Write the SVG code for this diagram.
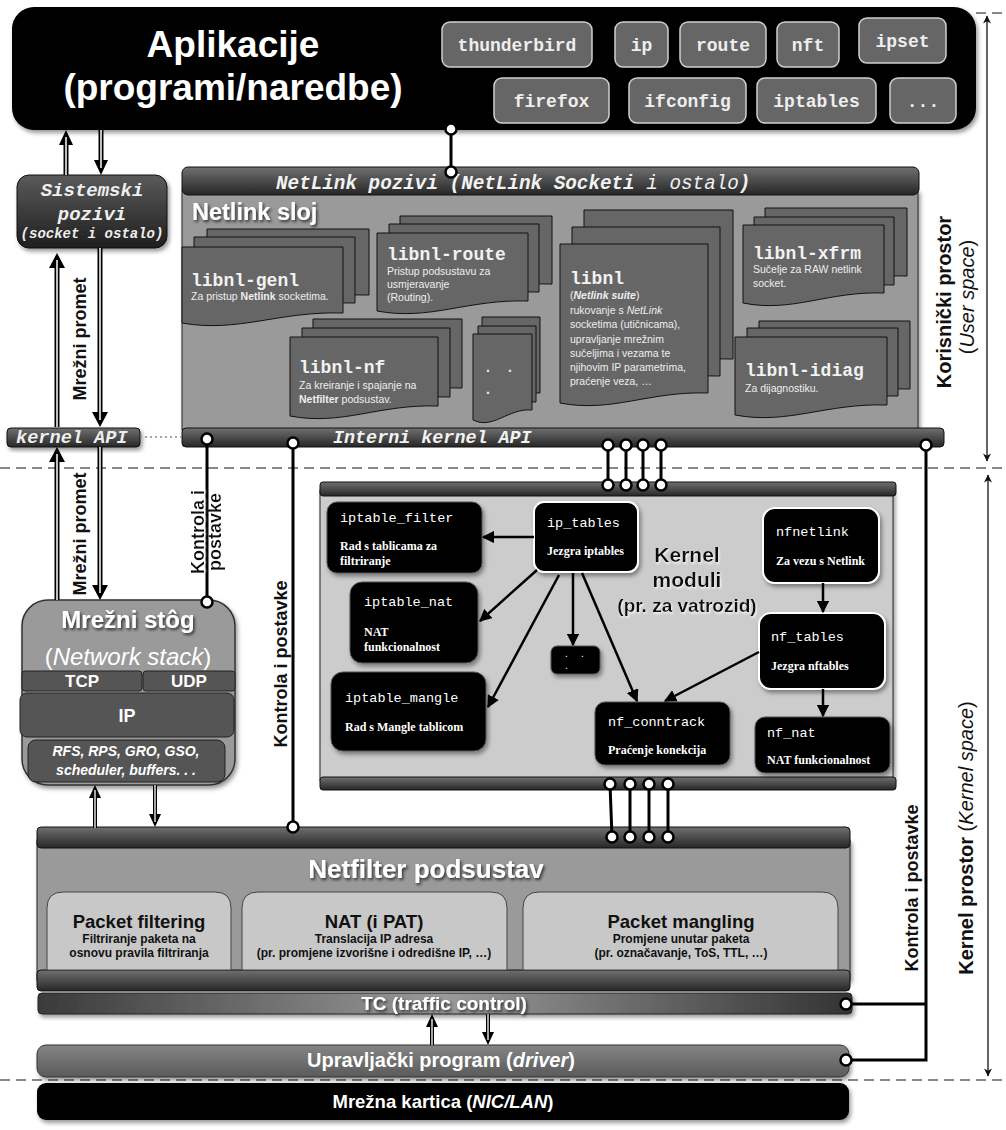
<svg xmlns="http://www.w3.org/2000/svg" width="1006" height="1130" viewBox="0 0 1006 1130">
<defs>
<style>
.mono{font-family:"Liberation Mono","DejaVu Sans Mono",monospace}
.sans{font-family:"Liberation Sans",Arial,sans-serif}
.serif{font-family:"Liberation Serif","Times New Roman",serif}
.bar{fill:url(#gBar);stroke:#111;stroke-width:1}
.doc{fill:#666;stroke:#111;stroke-width:1}
.btn{fill:#666;stroke:#d0d0d0;stroke-width:1.5}
.btxt{font-family:"Liberation Mono","DejaVu Sans Mono",monospace;font-weight:bold;font-size:18px;fill:#eee;text-anchor:middle}
.dname{font-family:"Liberation Mono","DejaVu Sans Mono",monospace;font-weight:bold;font-size:18px;fill:#f2f2f2}
.ddesc{font-family:"Liberation Sans",Arial,sans-serif;font-size:10.5px;fill:#eee}
.mod{fill:#000;stroke:#555;stroke-width:1}
.modw{fill:#000;stroke:#fff;stroke-width:2}
.mname{font-family:"Liberation Mono","DejaVu Sans Mono",monospace;font-size:13.5px;fill:#fff}
.mdesc{font-family:"Liberation Serif","Times New Roman",serif;font-weight:bold;font-size:12px;fill:#fff}
.conn{stroke:#000;stroke-width:3;fill:none}
.dot{fill:#fff;stroke:#000;stroke-width:2.5}
.arr{stroke:#000;stroke-width:2.5;fill:none;marker-end:url(#ah)}
.thin{stroke:#111;stroke-width:1.3;fill:none;marker-start:url(#ah2);marker-end:url(#ah2)}
.vlab{font-family:"Liberation Sans",Arial,sans-serif;font-weight:bold;font-size:18px;fill:#111;text-anchor:middle}
.dash{stroke:#888;stroke-width:2;stroke-dasharray:10 6;fill:none}
.wt{font-family:"Liberation Sans",Arial,sans-serif;font-weight:bold;fill:#fff;text-anchor:middle}
.bt{font-family:"Liberation Sans",Arial,sans-serif;font-weight:bold;fill:#111;text-anchor:middle}
.sub{fill:#c8c8c8;stroke:#444;stroke-width:1}
.hb{stroke:#000}
.hw{stroke:#fff}
</style>
<linearGradient id="gBar" x1="0" y1="0" x2="0" y2="1">
<stop offset="0" stop-color="#707070"/><stop offset="1" stop-color="#262626"/>
</linearGradient>
<linearGradient id="gDark" x1="0" y1="0" x2="0" y2="1">
<stop offset="0" stop-color="#5a5a5a"/><stop offset="1" stop-color="#1e1e1e"/>
</linearGradient>
<linearGradient id="gTC" x1="0" y1="0" x2="1" y2="0">
<stop offset="0" stop-color="#3a3a3a"/><stop offset="0.5" stop-color="#9a9a9a"/><stop offset="1" stop-color="#333"/>
</linearGradient>
<linearGradient id="gDrv" x1="0" y1="0" x2="0" y2="1">
<stop offset="0" stop-color="#858585"/><stop offset="1" stop-color="#5a5a5a"/>
</linearGradient>
<filter id="sh" x="-10%" y="-10%" width="125%" height="140%">
<feDropShadow dx="2" dy="3" stdDeviation="2" flood-color="#000" flood-opacity="0.4"/>
</filter>
<filter id="ts" x="-10%" y="-30%" width="125%" height="170%">
<feDropShadow dx="1.5" dy="2" stdDeviation="1.5" flood-color="#000" flood-opacity="0.7"/>
</filter>
<filter id="tw" x="-10%" y="-30%" width="125%" height="170%">
<feDropShadow dx="1" dy="1.5" stdDeviation="1.2" flood-color="#fff" flood-opacity="0.9"/>
</filter>
<marker id="ah" viewBox="0 0 10 10" refX="9" refY="5" markerWidth="5" markerHeight="5" orient="auto">
<path d="M0,0 L10,5 L0,10 z" fill="#000"/>
</marker>
<marker id="ah2" viewBox="0 0 10 10" refX="9.5" refY="5" markerWidth="11" markerHeight="8" markerUnits="userSpaceOnUse" orient="auto-start-reverse">
<path d="M0,0 L10,5 L0,10 L3,5 z" fill="#111"/>
</marker>
</defs>

<rect width="1006" height="1130" fill="#fff"/>

<!-- dashed boundaries -->
<g id="boundaries">
<line class="dash" x1="976" y1="13" x2="1006" y2="13"/>
<line class="dash" x1="0" y1="468" x2="1006" y2="468"/>
<line class="dash" x1="0" y1="1080" x2="1006" y2="1080"/>
<line class="thin" x1="987" y1="16" x2="987" y2="461"/>
<line class="thin" x1="988" y1="475" x2="988" y2="1076"/>
<text class="sans" transform="translate(951,302) rotate(-90)" text-anchor="middle" font-size="20" font-weight="bold" fill="#111">Korisnički prostor</text>
<text class="sans" transform="translate(974,297) rotate(-90)" text-anchor="middle" font-size="20" fill="#111">(<tspan font-style="italic">User space</tspan>)</text>
<text class="sans" transform="translate(973,838) rotate(-90)" text-anchor="middle" font-size="20" fill="#111"><tspan font-weight="bold">Kernel prostor </tspan>(<tspan font-style="italic">Kernel space</tspan>)</text>
</g>

<!-- Applications -->
<g id="aplikacije">
<rect x="12" y="7" width="964" height="123" rx="22" fill="#000" filter="url(#sh)"/>
<text class="wt" x="233" y="57" font-size="37">Aplikacije</text>
<text class="wt" x="233" y="100" font-size="37">(programi/naredbe)</text>
<rect class="btn" x="442" y="22" width="150" height="45" rx="8"/><text class="btxt" x="517" y="51">thunderbird</text>
<rect class="btn" x="615" y="22" width="53" height="45" rx="8"/><text class="btxt" x="641.5" y="51">ip</text>
<rect class="btn" x="680" y="22" width="86" height="45" rx="8"/><text class="btxt" x="723" y="51">route</text>
<rect class="btn" x="777" y="22" width="62" height="45" rx="8"/><text class="btxt" x="808" y="51">nft</text>
<rect class="btn" x="859" y="18" width="87" height="45" rx="8"/><text class="btxt" x="902.5" y="47">ipset</text>
<rect class="btn" x="494" y="78" width="115" height="45" rx="8"/><text class="btxt" x="551.5" y="107">firefox</text>
<rect class="btn" x="629" y="78" width="117" height="45" rx="8"/><text class="btxt" x="687.5" y="107">ifconfig</text>
<rect class="btn" x="757" y="78" width="119" height="45" rx="8"/><text class="btxt" x="816.5" y="107">iptables</text>
<rect class="btn" x="890" y="78" width="66" height="45" rx="8"/><text class="btxt" x="923" y="107">...</text>
</g>

<!-- Sistemski pozivi -->
<g id="sistemski">
<rect x="17" y="175" width="150" height="73" rx="12" fill="url(#gDark)" stroke="#111" filter="url(#sh)"/>
<text class="mono" x="92" y="196" font-size="19" font-style="italic" font-weight="bold" fill="#eee" text-anchor="middle">Sistemski</text>
<text class="mono" x="92" y="220" font-size="19" font-style="italic" font-weight="bold" fill="#eee" text-anchor="middle">pozivi</text>
<text class="mono" x="92" y="238" font-size="14" font-style="italic" font-weight="bold" fill="#eee" text-anchor="middle">(socket i ostalo)</text>
</g>

<g id="kernelapi">
<rect class="bar" x="7" y="428" width="133" height="19" rx="4" filter="url(#sh)"/>
<text class="mono" x="16" y="443" font-size="18.6" font-style="italic" font-weight="bold" fill="#eee">kernel API</text>
</g>

<!-- Netlink layer -->
<g id="netlink">
<rect x="182" y="190" width="736" height="240" fill="#9a9a9a" stroke="#222" filter="url(#sh)"/>
<rect class="bar" x="182" y="167" width="737" height="28" rx="6"/>
<text class="mono" x="276" y="189" font-size="19.3" font-style="italic" fill="#f2f2f2"><tspan font-weight="bold">NetLink pozivi (NetLink Socketi</tspan> i ostalo<tspan font-weight="bold">)</tspan></text>
<text class="sans" x="192" y="220" font-size="23.5" font-weight="bold" fill="#fff" filter="url(#ts)">Netlink sloj</text>
<rect class="bar" x="182" y="428" width="762" height="19" rx="4"/>
<text class="mono" x="333" y="443" font-size="18.4" font-style="italic" font-weight="bold" fill="#f2f2f2">Interni kernel API</text>
</g>

<g id="libnl-genl">
<path class="doc" d="M207,229 H369 V295 C304,293 264,315 207,305 Z"/>
<path class="doc" d="M194,237 H355 V303 C291,301 250,323 194,313 Z"/>
<path class="doc" d="M182,247 H343 V313 C279,311 238,333 182,323 Z"/>
<text class="dname" x="191" y="286">libnl-genl</text>
<text class="ddesc" x="191" y="300">Za pristup <tspan font-weight="bold">Netlink</tspan> socketima.</text>
</g>

<g id="libnl-route">
<path class="doc" d="M400,216 H552 V284 C491,282 453,304 400,294 Z"/>
<path class="doc" d="M389,224 H539 V292 C479,290 442,312 389,302 Z"/>
<path class="doc" d="M377,233 H528 V301 C468,299 430,321 377,311 Z"/>
<text class="dname" x="387" y="260">libnl-route</text>
<text class="ddesc" x="387" y="275">Pristup podsustavu za</text>
<text class="ddesc" x="387" y="288">usmjeravanje</text>
<text class="ddesc" x="387" y="301">(Routing).</text>
</g>

<g id="libnl-nf">
<path class="doc" d="M313,319 H462 V388 C402,386 365,408 313,398 Z"/>
<path class="doc" d="M302,328 H450 V397 C391,395 354,417 302,407 Z"/>
<path class="doc" d="M290,337 H438 V406 C379,404 342,426 290,416 Z"/>
<text class="dname" x="299" y="373">libnl-nf</text>
<text class="ddesc" x="299" y="389">Za kreiranje i spajanje na</text>
<text class="ddesc" x="299" y="403"><tspan font-weight="bold">Netfilter</tspan> podsustav.</text>
</g>

<g id="libnl-dots">
<path class="doc" d="M482,317 H540 V393 C517,391 502,413 482,403 Z"/>
<path class="doc" d="M478,326 H536 V402 C513,400 498,422 478,412 Z"/>
<path class="doc" d="M473,334 H532 V410 C508,408 493,430 473,420 Z"/>
<text class="sans" x="486" y="372" font-size="14" font-weight="bold" fill="#eee">.</text>
<text class="sans" x="508" y="372" font-size="14" font-weight="bold" fill="#eee">.</text>
<text class="sans" x="486" y="394" font-size="14" font-weight="bold" fill="#eee">.</text>
</g>

<g id="libnl">
<path class="doc" d="M584,210 H733 V359 C673,357 636,379 584,369 Z"/>
<path class="doc" d="M572,227 H720 V376 C661,374 624,396 572,386 Z"/>
<path class="doc" d="M560,244 H708 V393 C649,391 612,413 560,403 Z"/>
<text class="dname" x="570" y="284">libnl</text>
<text class="ddesc" x="570" y="299">(<tspan font-weight="bold" font-style="italic">Netlink suite</tspan>)</text>
<text class="ddesc" x="570" y="313.5">rukovanje s <tspan font-style="italic">NetLink</tspan></text>
<text class="ddesc" x="570" y="328">socketima (utičnicama),</text>
<text class="ddesc" x="570" y="342.5">upravljanje mrežnim</text>
<text class="ddesc" x="570" y="356.5">sučeljima i vezama te</text>
<text class="ddesc" x="570" y="371">njihovim IP parametrima,</text>
<text class="ddesc" x="570" y="385">praćenje veza, …</text>
</g>

<g id="libnl-xfrm">
<path class="doc" d="M765,208 H907 V276 C850,274 815,296 765,286 Z"/>
<path class="doc" d="M754,217 H894 V285 C838,283 803,305 754,295 Z"/>
<path class="doc" d="M743,225 H884 V293 C828,291 792,313 743,303 Z"/>
<text class="dname" x="753" y="259">libnl-xfrm</text>
<text class="ddesc" x="753" y="273">Sučelje za RAW netlink</text>
<text class="ddesc" x="753" y="287">socket.</text>
</g>

<g id="libnl-idiag">
<path class="doc" d="M759,321 H910 V389 C850,387 812,409 759,399 Z"/>
<path class="doc" d="M747,328 H898 V396 C838,394 800,416 747,406 Z"/>
<path class="doc" d="M735,337 H887 V405 C826,403 788,425 735,415 Z"/>
<text class="dname" x="745" y="376">libnl-idiag</text>
<text class="ddesc" x="745" y="392">Za dijagnostiku.</text>
</g>

<!-- Network stack -->
<g id="mrezni-stog">
<rect x="22" y="600" width="213" height="185" rx="26" fill="#9a9a9a" stroke="#333" stroke-width="1.5" filter="url(#sh)"/>
<text class="wt" x="128" y="628" font-size="24" filter="url(#ts)">Mrežni stôg</text>
<text class="sans" x="128" y="665" font-size="24" fill="#fff" text-anchor="middle">(<tspan font-style="italic">Network stack</tspan>)</text>
<rect x="22" y="671" width="120" height="20" rx="3" fill="#555" stroke="#222"/>
<rect x="143" y="671" width="92" height="20" rx="3" fill="#555" stroke="#222"/>
<text class="wt" x="82" y="687" font-size="17">TCP</text>
<text class="wt" x="189" y="687" font-size="17">UDP</text>
<rect x="20" y="693" width="214" height="44" rx="7" fill="#555" stroke="#222"/>
<text class="wt" x="127" y="722" font-size="18">IP</text>
<rect x="28" y="740" width="197" height="42" rx="8" fill="#555" stroke="#222"/>
<text class="wt" x="126" y="756" font-size="14" font-style="italic">RFS, RPS, GRO, GSO,</text>
<text class="wt" x="126" y="775" font-size="14" font-style="italic">scheduler, buffers. . .</text>
</g>

<!-- Kernel modules -->
<g id="kernel-moduli">
<rect x="320" y="490" width="573" height="290" fill="#cccccc" stroke="#222" filter="url(#sh)"/>
<rect class="bar" x="320" y="482" width="576" height="14" rx="3"/>
<rect class="bar" x="320" y="777" width="576" height="13" rx="3"/>
<text class="bt" x="687" y="562" font-size="21" fill="#222" filter="url(#tw)">Kernel</text>
<text class="bt" x="687" y="587" font-size="21" fill="#222" filter="url(#tw)">moduli</text>
<text class="bt" x="687" y="612" font-size="19" fill="#222" filter="url(#tw)">(pr. za vatrozid)</text>
</g>

<g id="iptable_filter">
<rect class="mod" x="327" y="502" width="155" height="71" rx="10" filter="url(#sh)"/>
<text class="mname" x="340" y="522">iptable_filter</text>
<text class="mdesc" x="340" y="550">Rad s tablicama za</text>
<text class="mdesc" x="340" y="565">filtriranje</text>
</g>
<g id="ip_tables">
<rect class="modw" x="534" y="502" width="104" height="70" rx="10" filter="url(#sh)"/>
<text class="mname" x="547" y="527">ip_tables</text>
<text class="mdesc" x="547" y="555">Jezgra iptables</text>
</g>
<g id="nfnetlink">
<rect class="modw" x="763" y="508" width="116" height="75" rx="12" filter="url(#sh)"/>
<text class="mname" x="776" y="536">nfnetlink</text>
<text class="mdesc" x="776" y="565">Za vezu s Netlink</text>
</g>
<g id="iptable_nat">
<rect class="mod" x="350" y="582" width="128" height="81" rx="12" filter="url(#sh)"/>
<text class="mname" x="364" y="606">iptable_nat</text>
<text class="mdesc" x="364" y="636">NAT</text>
<text class="mdesc" x="364" y="651">funkcionalnost</text>
</g>
<g id="modul-dots">
<rect class="mod" x="551" y="646" width="49" height="28" rx="6" filter="url(#sh)"/>
<text class="sans" x="565" y="657" font-size="10" fill="#fff">.</text>
<text class="sans" x="581" y="657" font-size="10" fill="#fff">.</text>
<text class="sans" x="565" y="669" font-size="10" fill="#fff">.</text>
</g>
<g id="nf_tables">
<rect class="modw" x="759" y="613" width="126" height="76" rx="12" filter="url(#sh)"/>
<text class="mname" x="771" y="641">nf_tables</text>
<text class="mdesc" x="771" y="670">Jezgra nftables</text>
</g>
<g id="iptable_mangle">
<rect class="mod" x="331" y="672" width="155" height="79" rx="12" filter="url(#sh)"/>
<text class="mname" x="345" y="702">iptable_mangle</text>
<text class="mdesc" x="345" y="731">Rad s Mangle tablicom</text>
</g>
<g id="nf_conntrack">
<rect class="mod" x="595" y="702" width="135" height="63" rx="10" filter="url(#sh)"/>
<text class="mname" x="608" y="726">nf_conntrack</text>
<text class="mdesc" x="608" y="754">Praćenje konekcija</text>
</g>
<g id="nf_nat">
<rect class="mod" x="755" y="717" width="135" height="56" rx="10" filter="url(#sh)"/>
<text class="mname" x="767" y="737">nf_nat</text>
<text class="mdesc" x="767" y="764">NAT funkcionalnost</text>
</g>

<!-- Netfilter -->
<g id="netfilter">
<rect x="37" y="840" width="813" height="140" fill="#9a9a9a" stroke="#222" filter="url(#sh)"/>
<rect class="bar" x="37" y="827" width="813" height="21" rx="4"/>
<rect class="bar" x="37" y="970" width="813" height="21" rx="4"/>
<text class="wt" x="426" y="878" font-size="26" filter="url(#ts)">Netfilter podsustav</text>
<path class="sub" d="M47,970 V908 Q47,892 63,892 H215 Q231,892 231,908 V970 Z"/>
<path class="sub" d="M242,970 V908 Q242,892 258,892 H491 Q507,892 507,908 V970 Z"/>
<path class="sub" d="M523,970 V908 Q523,892 539,892 H822 Q838,892 838,908 V970 Z"/>
<text class="bt" x="139" y="928" font-size="18.5">Packet filtering</text>
<text class="bt" x="139" y="943" font-size="12">Filtriranje paketa na</text>
<text class="bt" x="139" y="957" font-size="12">osnovu pravila filtriranja</text>
<text class="bt" x="374" y="928" font-size="18.5">NAT (i PAT)</text>
<text class="bt" x="374" y="943" font-size="12">Translacija IP adresa</text>
<text class="bt" x="374" y="957" font-size="12">(pr. promjene izvorišne i odredišne IP, …)</text>
<text class="bt" x="681" y="928" font-size="18.5">Packet mangling</text>
<text class="bt" x="681" y="943" font-size="12">Promjene unutar paketa</text>
<text class="bt" x="681" y="957" font-size="12">(pr. označavanje, ToS, TTL,  …)</text>
</g>

<g id="tc">
<rect x="38" y="993" width="814" height="21" rx="4" fill="url(#gTC)" stroke="#222" filter="url(#sh)"/>
<text class="wt" x="444" y="1010" font-size="19" filter="url(#ts)">TC (traffic control)</text>
</g>

<g id="driver">
<rect x="37" y="1045" width="812" height="32" rx="9" fill="url(#gDrv)" stroke="#333" filter="url(#sh)"/>
<text class="wt" x="441" y="1067" font-size="20"><tspan>Upravljački program (</tspan><tspan font-style="italic">driver</tspan><tspan>)</tspan></text>
</g>

<g id="nic">
<rect x="37" y="1083" width="812" height="37" rx="9" fill="#000" filter="url(#sh)"/>
<text class="wt" x="443" y="1108" font-size="18.5">Mrežna kartica (<tspan font-style="italic">NIC/LAN</tspan>)</text>
</g>

<!-- Connectors -->
<g id="connectors">
<line x1="140" y1="437" x2="182" y2="437" stroke="#888" stroke-width="1.5" stroke-dasharray="2 3"/>

<g id="traffic-arrows">
<line class="hb" x1="66" y1="175" x2="66" y2="144" stroke-width="5"/><polygon points="66,130 59,145 73,145"/><line class="hw" x1="66" y1="175" x2="66" y2="137" stroke-width="1.5"/>
<line class="hb" x1="101" y1="130" x2="101" y2="161" stroke-width="5"/><polygon points="101,175 94,160 108,160"/><line class="hw" x1="101" y1="130" x2="101" y2="168" stroke-width="1.5"/>
<line class="hb" x1="57" y1="427" x2="57" y2="267" stroke-width="5"/><polygon points="57,253 49,268 65,268"/><line class="hw" x1="57" y1="427" x2="57" y2="260" stroke-width="1.5"/>
<line class="hb" x1="100" y1="248" x2="100" y2="413" stroke-width="5"/><polygon points="100,427 92,412 108,412"/><line class="hw" x1="100" y1="248" x2="100" y2="420" stroke-width="1.5"/>
<line class="hb" x1="57" y1="600" x2="57" y2="461" stroke-width="5"/><polygon points="57,447 49,462 65,462"/><line class="hw" x1="57" y1="600" x2="57" y2="454" stroke-width="1.5"/>
<line class="hb" x1="100" y1="447" x2="100" y2="586" stroke-width="5"/><polygon points="100,600 92,585 108,585"/><line class="hw" x1="100" y1="447" x2="100" y2="593" stroke-width="1.5"/>
<line class="hb" x1="95" y1="828" x2="95" y2="797" stroke-width="4"/><polygon points="95,785 89,798 101,798"/><line class="hw" x1="95" y1="828" x2="95" y2="790" stroke-width="1.3"/>
<line class="hb" x1="155" y1="785" x2="155" y2="815" stroke-width="4"/><polygon points="155,827 149,814 161,814"/><line class="hw" x1="155" y1="785" x2="155" y2="822" stroke-width="1.3"/>
<line class="hb" x1="432" y1="1045" x2="432" y2="1026" stroke-width="4"/><polygon points="432,1014 426,1027 438,1027"/><line class="hw" x1="432" y1="1045" x2="432" y2="1019" stroke-width="1.3"/>
<line class="hb" x1="488" y1="1014" x2="488" y2="1033" stroke-width="4"/><polygon points="488,1045 482,1032 494,1032"/><line class="hw" x1="488" y1="1014" x2="488" y2="1040" stroke-width="1.3"/>
</g>
<text class="vlab" transform="translate(86,339) rotate(-90)" font-size="17.5">Mrežni promet</text>
<text class="vlab" transform="translate(86,534) rotate(-90)" font-size="17.5">Mrežni promet</text>

<line class="conn" x1="451" y1="129" x2="451" y2="172"/>
<circle class="dot" cx="451" cy="129" r="5.5"/><circle class="dot" cx="451" cy="172" r="5.5"/>

<line class="conn" x1="207" y1="439" x2="207" y2="602"/>
<text class="vlab" transform="translate(204,532) rotate(-90)" font-size="17" filter="url(#tw)">Kontrola i</text>
<text class="vlab" transform="translate(221,532) rotate(-90)" font-size="17" filter="url(#tw)">postavke</text>
<circle class="dot" cx="207" cy="439" r="5.5"/><circle class="dot" cx="207" cy="602" r="5.5"/>

<line class="conn" x1="293" y1="443" x2="293" y2="827"/>
<circle class="dot" cx="293" cy="443" r="5.5"/><circle class="dot" cx="293" cy="827" r="5.5"/>
<text class="vlab" transform="translate(287,664) rotate(-90)">Kontrola i postavke</text>

<polyline class="conn" points="926,445 926,1060 846,1060"/>
<line class="conn" x1="846" y1="1004" x2="926" y2="1004"/>
<circle class="dot" cx="926" cy="445" r="5.5"/><circle class="dot" cx="846" cy="1004" r="5.5"/><circle class="dot" cx="846" cy="1060" r="5.5"/>
<text class="vlab" transform="translate(918,888) rotate(-90)">Kontrola i postavke</text>

<line class="conn" x1="608" y1="445" x2="608" y2="485"/>
<line class="conn" x1="626" y1="445" x2="626" y2="485"/>
<line class="conn" x1="643" y1="445" x2="643" y2="485"/>
<line class="conn" x1="661" y1="445" x2="661" y2="485"/>
<circle class="dot" cx="608" cy="445" r="5.5"/><circle class="dot" cx="626" cy="445" r="5.5"/><circle class="dot" cx="643" cy="445" r="5.5"/><circle class="dot" cx="661" cy="445" r="5.5"/>
<circle class="dot" cx="608" cy="485" r="5.5"/><circle class="dot" cx="626" cy="485" r="5.5"/><circle class="dot" cx="643" cy="485" r="5.5"/><circle class="dot" cx="661" cy="485" r="5.5"/>

<line class="conn" x1="610" y1="784" x2="612" y2="837"/>
<line class="conn" x1="630" y1="784" x2="630" y2="837"/>
<line class="conn" x1="649" y1="784" x2="649" y2="837"/>
<line class="conn" x1="668" y1="784" x2="668" y2="837"/>
<circle class="dot" cx="610" cy="784" r="5.5"/><circle class="dot" cx="630" cy="784" r="5.5"/><circle class="dot" cx="649" cy="784" r="5.5"/><circle class="dot" cx="668" cy="784" r="5.5"/>
<circle class="dot" cx="612" cy="837" r="5.5"/><circle class="dot" cx="630" cy="837" r="5.5"/><circle class="dot" cx="649" cy="837" r="5.5"/><circle class="dot" cx="668" cy="837" r="5.5"/>

<line class="arr" x1="534" y1="537" x2="483" y2="537"/>
<line class="arr" x1="537" y1="570" x2="480" y2="621"/>
<line class="arr" x1="559" y1="575" x2="488" y2="707"/>
<line class="arr" x1="573" y1="573" x2="573" y2="645"/>
<line class="arr" x1="582" y1="573" x2="637" y2="701"/>
<line class="arr" x1="823" y1="583" x2="823" y2="612"/>
<line class="arr" x1="759" y1="652" x2="665" y2="701"/>
<line class="arr" x1="823" y1="689" x2="823" y2="716"/>
</g>
</svg>
